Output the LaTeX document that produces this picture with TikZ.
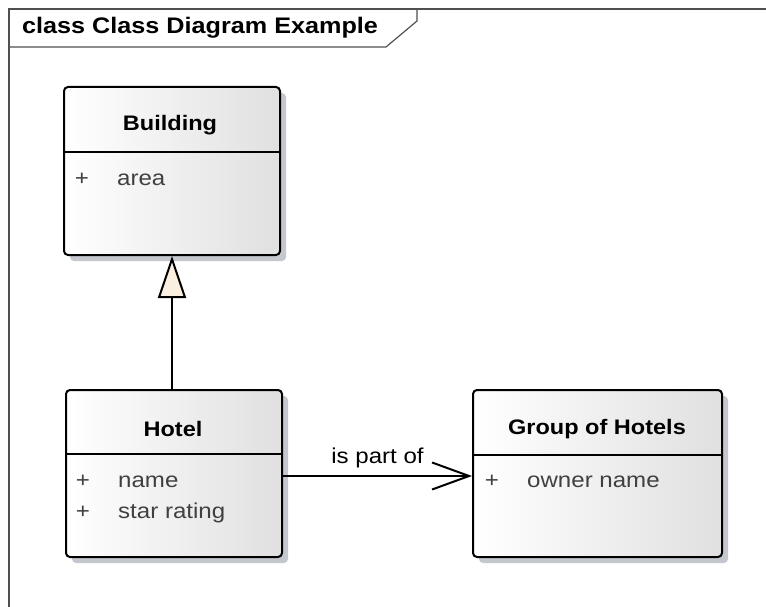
\documentclass[tikz,border=0pt]{standalone}
\usepackage{fontspec}
\usetikzlibrary{arrows.meta,shadows}
\newfontfamily\umlfont[FakeStretch=1.12]{Liberation Sans}
\definecolor{framegray}{HTML}{505050}
\definecolor{attrgray}{HTML}{404040}
\definecolor{shadowgray}{HTML}{C4C8CE}
\definecolor{boxright}{HTML}{E0E0E0}
\definecolor{genfill}{HTML}{FBF0E0}
\tikzset{
  classbox/.style={draw=black, line width=2pt, rounded corners=4pt,
    left color=white, right color=boxright, inner sep=0pt,
    drop shadow={shadow xshift=6pt, shadow yshift=-6pt, fill=shadowgray, opacity=1}},
  classname/.style={font=\umlfont\bfseries\fontsize{21}{24}\selectfont, inner sep=0pt},
  attr/.style={font=\umlfont\fontsize{21.5}{24}\selectfont, text=attrgray, inner sep=0pt, anchor=mid west},
  visibility/.style={attr, anchor=mid},
  divider/.style={line width=2pt},
  conn/.style={line width=2pt},
}
\begin{document}
\begin{tikzpicture}[x=1pt,y=-1pt]
\useasboundingbox (0,0) rectangle (766,607);
% diagram frame with its name tab
\draw[framegray, line width=2pt] (9,607) -- (9,9) -- (766,9);
\draw[framegray, line width=1.2pt] (9,47) -- (386,47) -- (417,21) -- (417,9);
\node[font=\umlfont\bfseries\fontsize{22.5}{26}\selectfont, anchor=mid west, inner sep=0pt] (title) at (22,31) {class Class Diagram Example};

% classes
\node[classbox, minimum width=216pt, minimum height=168pt] (building) at (172,171) {};
\node[classbox, minimum width=216pt, minimum height=167pt] (hotel) at (174,473.5) {};
\node[classbox, minimum width=249pt, minimum height=167pt] (group) at (597.5,473.5) {};

\draw[divider] ([yshift=-66pt]building.north west) -- ([yshift=-66pt]building.north east);
\draw[divider] ([yshift=-65pt]hotel.north west) -- ([yshift=-65pt]hotel.north east);
\draw[divider] ([yshift=-66pt]group.north west) -- ([yshift=-66pt]group.north east);

\node[classname] (buildingname) at (170,125) {Building};
\node[visibility] (bplus) at (82,183) {+};
\node[attr] (barea) at (117,183) {area};

\node[classname] (hotelname) at (173,429) {Hotel};
\node[visibility] (hplus1) at (83,485) {+};
\node[attr] (hname) at (118,485) {name};
\node[visibility] (hplus2) at (83,516) {+};
\node[attr] (hstar) at (118,516) {star rating};

\node[classname] (groupname) at (597,429) {Group of Hotels};
\node[visibility] (gplus) at (492,485) {+};
\node[attr] (gowner) at (527,485) {owner name};

% generalization Hotel -> Building
\draw[conn, -{Triangle[open, fill=genfill, length=42pt, width=28pt, line width=2pt]}]
  (building.south |- hotel.north) -- (building.south);

% association Hotel -> Group of Hotels
\draw[conn, -{Straight Barb[length=37pt, width=27pt, line width=2pt]}]
  ([yshift=-2.5pt]hotel.east) -- ([yshift=-2.5pt]group.west)
  node[pos=0.5, above=7pt, font=\umlfont\fontsize{21.5}{24}\selectfont, inner sep=0pt] (assoclabel) {is part of};
\end{tikzpicture}
\end{document}
